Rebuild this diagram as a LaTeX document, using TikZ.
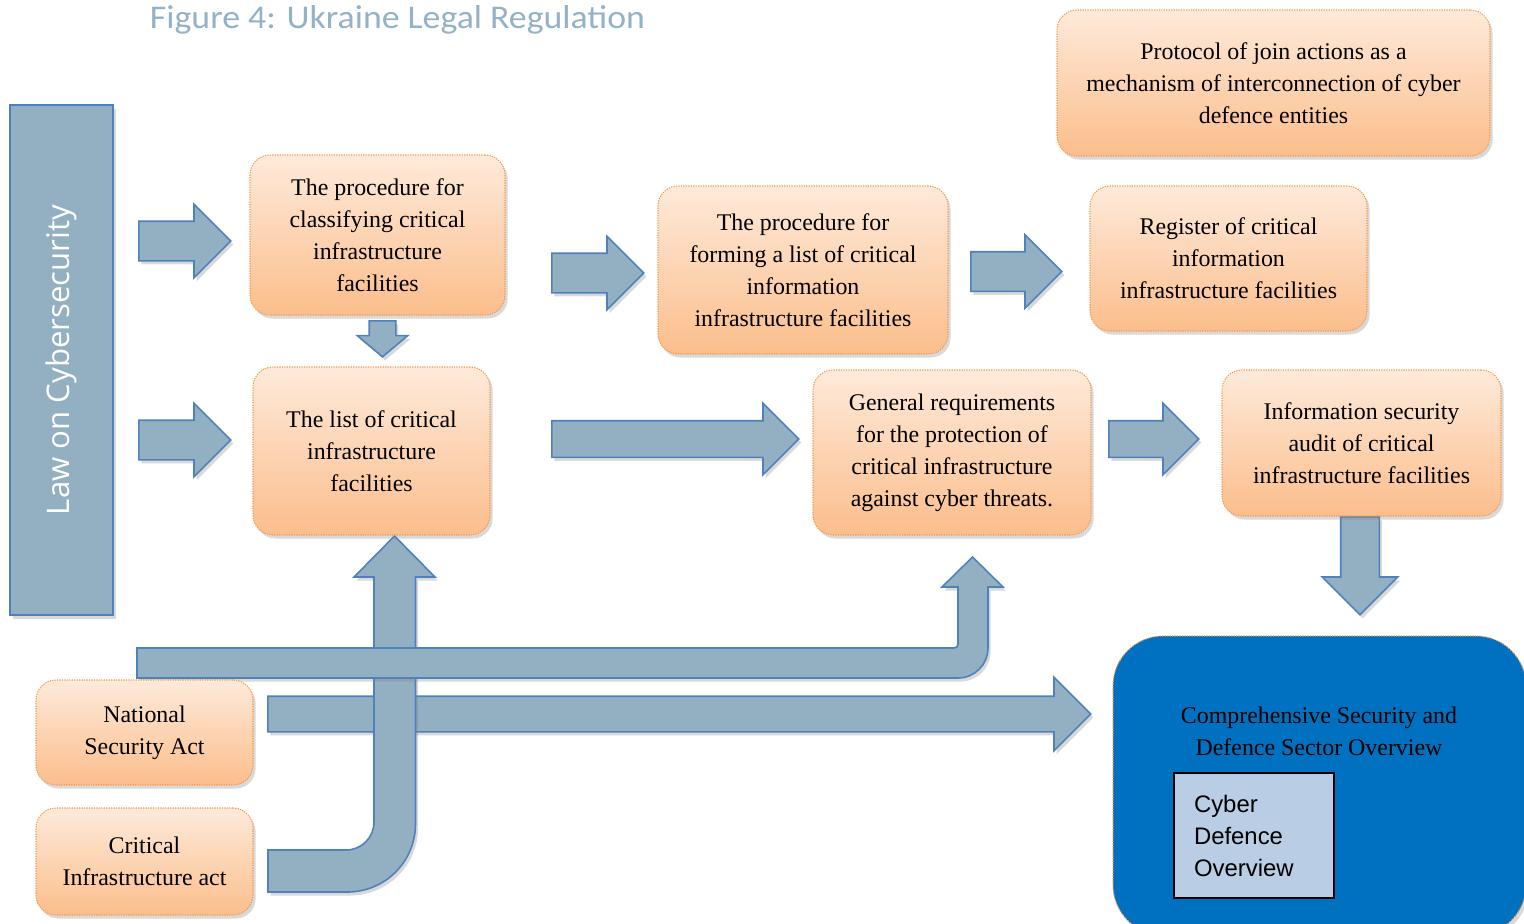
\documentclass[tikz,border=0pt]{standalone}
\usepackage{fontspec}
\setmainfont{Liberation Serif}
\newfontfamily\titlefont{Carlito}
\newfontfamily\lawfont{Open Sans}
\newfontfamily\cyberfont{Liberation Sans}
\usetikzlibrary{shapes.arrows,shadows}

\definecolor{steel}{RGB}{147,176,194}
\definecolor{steelline}{RGB}{79,129,189}
\definecolor{peachtop}{RGB}{254,234,218}
\definecolor{peachbot}{RGB}{251,190,140}
\definecolor{peachline}{RGB}{247,150,70}
\definecolor{secblue}{RGB}{0,112,192}
\definecolor{cyberfill}{RGB}{185,205,229}
\definecolor{titlegrey}{RGB}{147,177,199}

\tikzset{
	softshadow/.style={drop shadow={shadow xshift=1.5pt, shadow yshift=-2pt, opacity=0.3}},
	box/.style={rounded corners=0.4cm, draw=peachline, line width=0.6pt, dash pattern=on 0.7pt off 0.7pt,
		top color=peachtop, bottom color=peachbot, align=center, inner sep=0pt,
		font=\fontsize{13.6}{18.2}\selectfont, softshadow},
	blk/.style={single arrow, anchor=tail, draw=steelline, fill=steel, line width=0.9pt, inner xsep=0pt,
		single arrow tip angle=90, softshadow},
	bent/.style={draw=steelline, fill=steel, line width=0.9pt, softshadow},
}

\begin{document}
\begin{tikzpicture}
		\useasboundingbox (0,0) rectangle (30.48,-18.46);

		% title
		\draw (7.95,-0.56) node [anchor=base, text=titlegrey] (title)
			{\resizebox{9.9cm}{0.46cm}{\titlefont Figure 4: Ukraine Legal Regulation}};

		% the law
		\draw (1.23,-7.20) node [rotate=90, draw=steelline, line width=1.3pt, fill=steel, minimum width=10.2cm,
			minimum height=2.06cm, text=white, softshadow] (law) {\resizebox{6.2cm}{!}{\lawfont Law on Cybersecurity}};

		% straight block arrows (placed by their tails)
		\draw (2.76,-4.82) node [blk, minimum height=1.84cm, inner ysep=0.38cm, single arrow head extend=0.34cm] (ar1) {};
		\draw (2.76,-8.80) node [blk, minimum height=1.84cm, inner ysep=0.38cm, single arrow head extend=0.34cm] (ar2) {};
		\draw (11.02,-5.46) node [blk, minimum height=1.84cm, inner ysep=0.38cm, single arrow head extend=0.34cm] (ar3) {};
		\draw (19.40,-5.43) node [blk, minimum height=1.82cm, inner ysep=0.38cm, single arrow head extend=0.34cm] (ar4) {};
		\draw (11.02,-8.78) node [blk, minimum height=4.94cm, inner ysep=0.35cm, single arrow head extend=0.35cm] (ar5) {};
		\draw (22.16,-8.78) node [blk, minimum height=1.80cm, inner ysep=0.35cm, single arrow head extend=0.35cm] (ar6) {};
		\draw (7.65,-6.40) node [blk, rotate=-90, single arrow tip angle=100, minimum height=0.72cm, inner ysep=0.25cm, single arrow head extend=0.24cm] (ar7) {};
		\draw (27.20,-10.32) node [blk, rotate=-90, minimum height=1.96cm, inner ysep=0.37cm, single arrow head extend=0.37cm] (ar8) {};
		\draw (5.34,-14.28) node [blk, minimum height=16.46cm, inner ysep=0.34cm, single arrow head extend=0.38cm] (ar9) {};

		% bent block arrows
		\draw [bent] (5.36,-17.00) -- (6.92,-17.00) arc [start angle=-90, end angle=0, radius=0.56]
			-- (7.48,-11.54) -- (7.08,-11.54) -- (7.89,-10.72) -- (8.70,-11.54) -- (8.31,-11.54)
			-- (8.31,-16.48) arc [start angle=0, end angle=-90, radius=1.36] -- (5.36,-17.84) -- cycle;
		\draw [bent] (2.74,-12.96) -- (19.08,-12.96) arc [start angle=-90, end angle=0, radius=0.08]
			-- (19.16,-11.74) -- (18.84,-11.74) -- (19.45,-11.14) -- (20.06,-11.74) -- (19.76,-11.74)
			-- (19.76,-12.96) arc [start angle=0, end angle=-90, radius=0.6] -- (2.74,-13.56) -- cycle;

		% orange boxes
		\draw (7.55,-4.70) node [box, minimum width=5.10cm, minimum height=3.20cm] (classify)
			{The procedure for\\classifying critical\\infrastructure\\facilities};
		\draw (7.43,-9.02) node [box, minimum width=4.74cm, minimum height=3.36cm] (list)
			{The list of critical\\infrastructure\\facilities};
		\draw (16.06,-5.40) node [box, minimum width=5.80cm, minimum height=3.36cm] (forming)
			{The procedure for\\forming a list of critical\\information\\infrastructure facilities};
		\draw (24.57,-5.17) node [box, minimum width=5.54cm, minimum height=2.90cm] (register)
			{Register of critical\\information\\infrastructure facilities};
		\draw (25.47,-1.66) node [box, minimum width=8.66cm, minimum height=2.92cm] (protocol)
			{Protocol of join actions as a\\mechanism of interconnection of cyber\\defence entities};
		\draw (19.04,-9.05) node [box, minimum width=5.56cm, minimum height=3.30cm] (general)
			{General requirements\\for the protection of\\critical infrastructure\\against cyber threats.};
		\draw (27.23,-8.86) node [box, minimum width=5.58cm, minimum height=2.92cm] (audit)
			{Information security\\audit of critical\\infrastructure facilities};
		\draw (2.89,-14.65) node [box, minimum width=4.34cm, minimum height=2.10cm] (natsec)
			{National\\Security Act};
		\draw (2.89,-17.23) node [box, minimum width=4.34cm, minimum height=2.14cm] (critact)
			{Critical\\Infrastructure act};

		% overview
		\draw (26.39,-15.71) node [rounded corners=1cm, fill=secblue, draw=peachline, line width=0.6pt,
			dash pattern=on 0.7pt off 0.7pt, minimum width=8.26cm, minimum height=5.98cm, softshadow] (overview) {};
		\draw (26.38,-14.63) node [align=center, font=\fontsize{13.6}{18.2}\selectfont] (ovtitle)
			{Comprehensive Security and\\Defence Sector Overview};
		\draw (25.08,-16.71) node [draw=black, line width=0.6pt, fill=cyberfill, minimum width=3.2cm, minimum height=2.5cm,
			inner xsep=0.4cm, text width=2.4cm, align=left, font=\cyberfont\fontsize{13.6}{18.2}\selectfont] (cyber)
			{Cyber\\Defence\\Overview};
	\end{tikzpicture}
\end{document}
